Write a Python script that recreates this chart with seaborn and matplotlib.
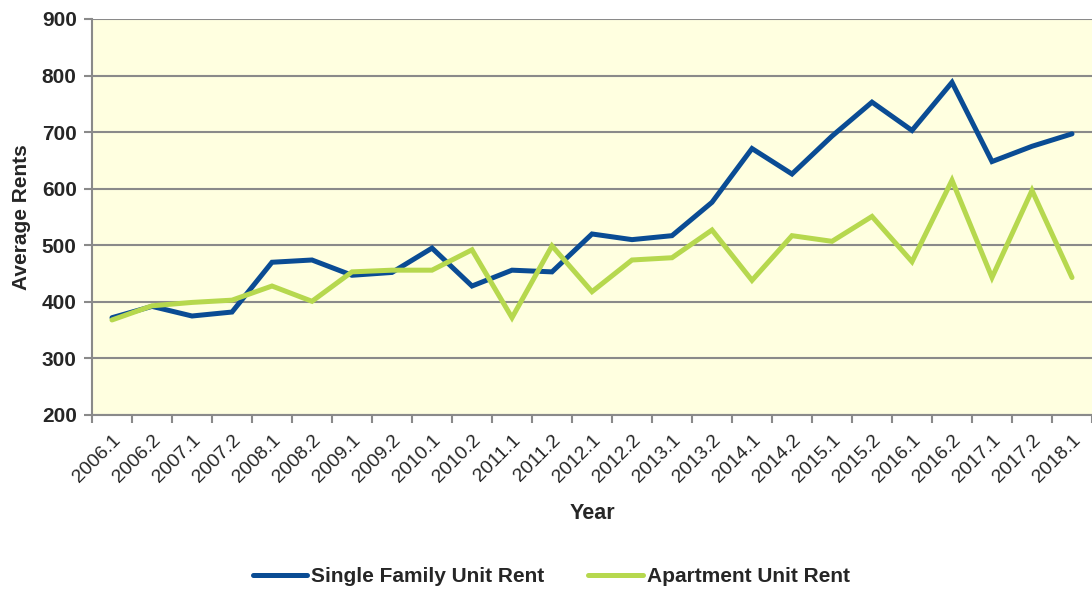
import matplotlib
matplotlib.use("Agg")
import matplotlib.pyplot as plt
import seaborn as sns
import pandas as pd
import numpy as np
from matplotlib.ticker import FixedLocator

periods = ["2006.1", "2006.2", "2007.1", "2007.2", "2008.1", "2008.2", "2009.1",
           "2009.2", "2010.1", "2010.2", "2011.1", "2011.2", "2012.1", "2012.2",
           "2013.1", "2013.2", "2014.1", "2014.2", "2015.1", "2015.2", "2016.1",
           "2016.2", "2017.1", "2017.2", "2018.1"]
single_family = [372, 392, 375, 382, 470, 474, 447, 452, 495, 428, 456, 453, 520,
                 510, 517, 576, 671, 626, 693, 753, 703, 788, 648, 675, 697]
apartment = [368, 393, 399, 403, 428, 401, 453, 456, 456, 492, 372, 499, 418,
             474, 478, 527, 438, 517, 507, 551, 471, 615, 443, 597, 443]
series_names = ["Single Family Unit Rent", "Apartment Unit Rent"]
y_ticks = [200, 300, 400, 500, 600, 700, 800, 900]

sns.set_theme(style="white")
plt.rcParams["font.family"] = ["Liberation Sans", "DejaVu Sans"]

df = pd.DataFrame({
    "Year": periods * 2,
    "Rent": single_family + apartment,
    "Series": [series_names[0]] * len(periods) + [series_names[1]] * len(periods),
})

fig = plt.figure(figsize=(10.92, 5.89), dpi=100)
ax = fig.add_axes([92 / 1092, 1 - 415 / 589, 1000 / 1092, 396 / 589])
ax.set_facecolor("#FFFFE0")

palette = {series_names[0]: "#0A4C94", series_names[1]: "#B6D84E"}
sns.lineplot(data=df, x="Year", y="Rent", hue="Series", palette=palette,
             linewidth=3.6, ax=ax, sort=False, legend=True)
for line in ax.lines:
    line.set_solid_capstyle("round")
    line.set_solid_joinstyle("miter")

ax.set_xlim(-0.5, len(periods) - 0.5)
ax.set_ylim(200, 900)
ax.set_yticks(y_ticks)
ax.set_yticklabels([str(v) for v in y_ticks], fontsize=15, fontweight="bold")
ax.yaxis.grid(True, color="#8A8A8A", linewidth=1.5)
ax.xaxis.grid(False)
ax.set_axisbelow(True)

ax.set_xticks(range(len(periods)))
ax.set_xticklabels(periods, rotation=45, ha="right", rotation_mode="anchor",
                   fontsize=14)
ax.xaxis.set_minor_locator(FixedLocator(np.arange(-0.5, len(periods), 1.0)))
ax.tick_params(axis="x", which="major", length=0, pad=12)
ax.tick_params(axis="x", which="minor", length=6, width=1.5, color="#8A8A8A",
               direction="out", bottom=True)
ax.tick_params(axis="y", which="major", length=6, width=1.5, color="#8A8A8A",
               direction="out", left=True, pad=5)

for side in ["top", "right"]:
    ax.spines[side].set_visible(False)
for side in ["left", "bottom"]:
    ax.spines[side].set_color("#8A8A8A")
    ax.spines[side].set_linewidth(1.5)

ax.set_xlabel("Year", fontsize=15.5, fontweight="bold", labelpad=12)
ax.set_ylabel("Average Rents", fontsize=15, fontweight="bold", labelpad=8)

handles, labels = ax.get_legend_handles_labels()
ax.legend(handles, labels, loc="center", bbox_to_anchor=(0.505, 1 - 577 / 589),
          bbox_transform=fig.transFigure, ncol=2, frameon=False,
          prop={"size": 15, "weight": "bold"}, handlelength=2.6,
          handletextpad=0.2, columnspacing=2.1)

fig.savefig("out.png", dpi=100)
